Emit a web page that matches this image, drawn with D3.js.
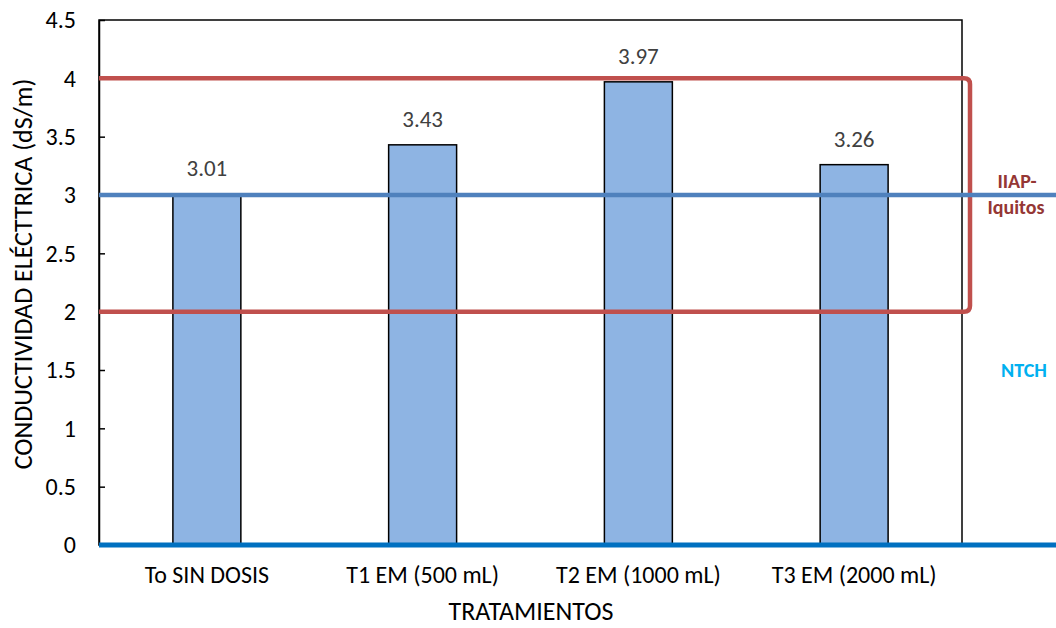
<!DOCTYPE html>
<html><head><meta charset="utf-8">
<script src="https://cdn.jsdelivr.net/npm/d3@7"></script>
<style>body{margin:0;background:#fff}svg{display:block}text{font-family:Carlito,Calibri,"Open Sans","Liberation Sans",sans-serif}</style>
</head><body>
<svg id="c" width="1056" height="628"></svg>
<script>
const categories = ["To SIN DOSIS","T1 EM (500 mL)","T2 EM (1000 mL)","T3 EM (2000 mL)"];
const values = [3.01,3.43,3.97,3.26];
const yTicks = [0,0.5,1,1.5,2,2.5,3,3.5,4,4.5];
const iiapRange = [2,4];
const ntchLevels = [0,3];

const svg = d3.select("#c");
const L=99, R=962, T=20, B=545;
const x = d3.scaleBand().domain(categories).range([L,R]).padding(0);
const y = d3.scaleLinear().domain([0,4.5]).range([B,T]);
const bw = x.bandwidth()*0.315;

// frame
svg.append("rect").attr("x",L).attr("y",T).attr("width",R-L).attr("height",B-T)
  .attr("fill","none").attr("stroke","#000").attr("stroke-width",1.5);

// y axis
const ya = svg.append("g").attr("transform",`translate(${L},0)`)
  .call(d3.axisLeft(y).tickValues(yTicks).tickSizeInner(-6).tickSizeOuter(0).tickPadding(23).tickFormat(d=>String(d)));
ya.select(".domain").attr("stroke","#000").attr("stroke-width",1.5);
ya.selectAll(".tick line").attr("stroke","#000").attr("stroke-width",1.5);
ya.selectAll("text").attr("font-size",24).attr("fill","#000").attr("font-family",null);

// bars
svg.selectAll(".bar").data(values).join("rect").attr("class","bar")
  .attr("x",(d,i)=>x(categories[i])+x.bandwidth()/2-bw/2)
  .attr("y",d=>y(d)).attr("width",bw).attr("height",d=>y(0)-y(d))
  .attr("fill","#8EB4E3").attr("stroke","#000").attr("stroke-width",1.5);

// value labels
svg.selectAll(".vl").data(values).join("text").attr("class","vl")
  .attr("x",(d,i)=>x(categories[i])+x.bandwidth()/2)
  .attr("y",d=>y(d)-18).attr("text-anchor","middle")
  .attr("font-size",23).attr("fill","#404040").text(d=>d.toFixed(2));

// IIAP rounded bracket
const rx=970, r=6, y4=y(iiapRange[1]), y2=y(iiapRange[0]);
svg.append("path")
  .attr("d",`M${L},${y4} H${rx-r} Q${rx},${y4} ${rx},${y4+r} V${y2-r} Q${rx},${y2} ${rx-r},${y2} H${L}`)
  .attr("fill","none").attr("stroke","#C0504D").attr("stroke-width",4.5);

// NTCH lines
svg.append("line").attr("x1",L).attr("x2",1056).attr("y1",y(ntchLevels[1])).attr("y2",y(ntchLevels[1]))
  .attr("stroke","#4F81BD").attr("stroke-width",4.5);
svg.append("line").attr("x1",L).attr("x2",1056).attr("y1",y(ntchLevels[0])).attr("y2",y(ntchLevels[0]))
  .attr("stroke","#0070C0").attr("stroke-width",5);

// x labels
svg.selectAll(".xl").data(categories).join("text").attr("class","xl")
  .attr("x",d=>x(d)+x.bandwidth()/2).attr("y",583).attr("text-anchor","middle")
  .attr("font-size",24).attr("fill","#000").text(d=>d);

svg.append("text").attr("x",531).attr("y",620).attr("text-anchor","middle")
  .attr("font-size",26).attr("fill","#000").text("TRATAMIENTOS");
svg.append("text").attr("transform","translate(32,274) rotate(-90)").attr("text-anchor","middle")
  .attr("font-size",26).attr("fill","#000").text("CONDUCTIVIDAD ELÉCTTRICA (dS/m)");

// annotations
svg.append("text").attr("x",1017).attr("y",188).attr("text-anchor","middle")
  .attr("font-size",20).attr("font-weight","bold").attr("fill","#953735").text("IIAP-");
svg.append("text").attr("x",1016).attr("y",214).attr("text-anchor","middle")
  .attr("font-size",20).attr("font-weight","bold").attr("fill","#953735").text("Iquitos");
svg.append("text").attr("x",1024).attr("y",377).attr("text-anchor","middle")
  .attr("font-size",20).attr("font-weight","bold").attr("fill","#00B0F0").text("NTCH");
</script>
</body></html>
